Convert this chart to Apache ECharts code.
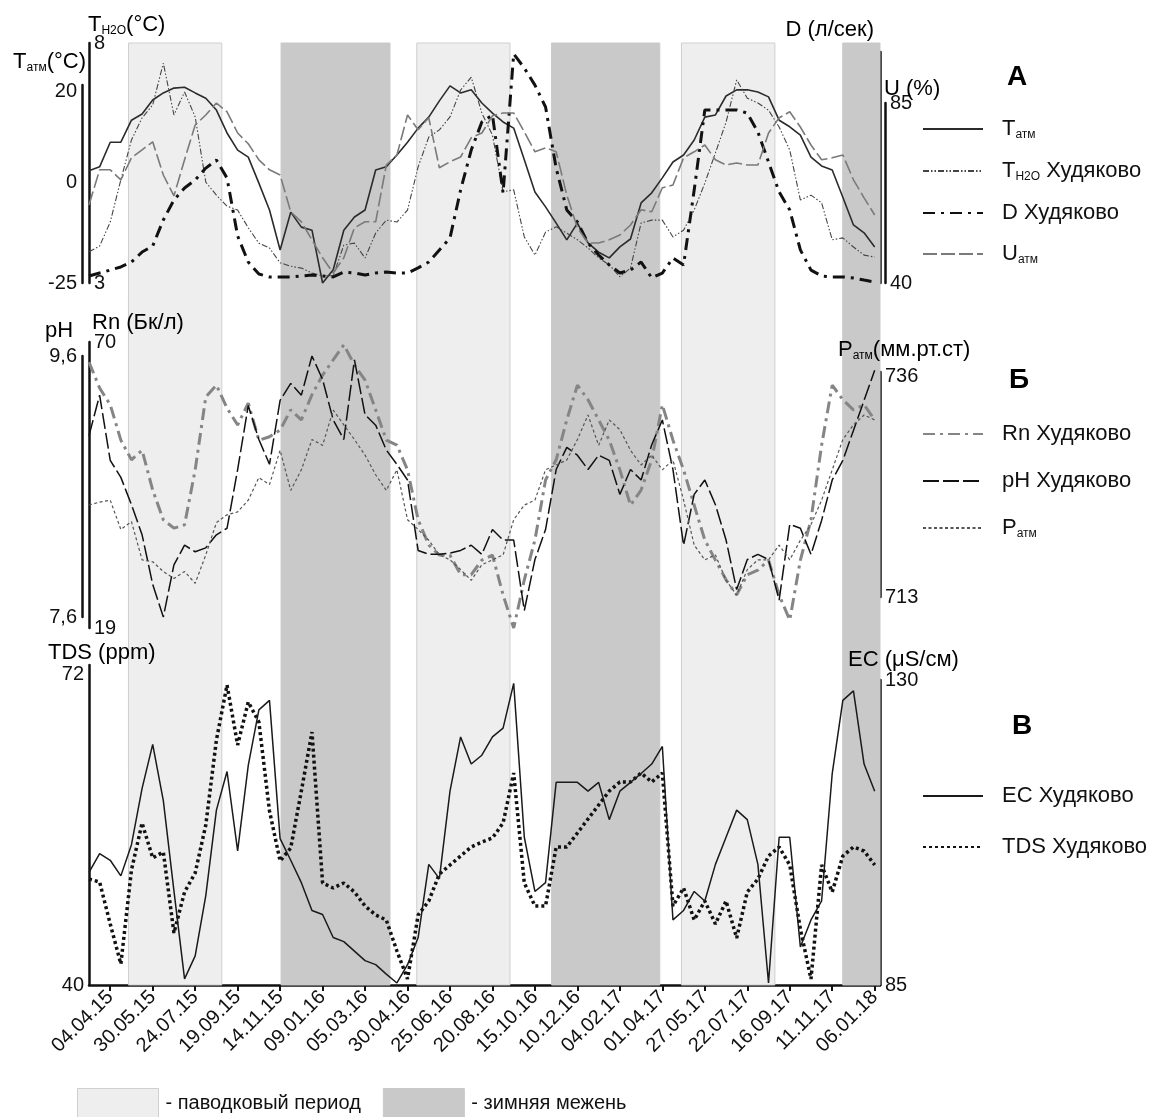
<!DOCTYPE html>
<html>
<head>
<meta charset="utf-8">
<script src="https://cdn.jsdelivr.net/npm/echarts@6/dist/echarts.min.js"></script>
<style>
  html, body { margin: 0; padding: 0; background: #fff; }
  #chart { width: 1172px; height: 1117px; }
</style>
</head>
<body>
<div id="chart"></div>
<script>
// подписи оси X (каждые 56 дней), точки данных — раз в 2 недели, первая за 4 недели до 04.04.15
const dateLabels = ['04.04.15', '30.05.15', '24.07.15', '19.09.15', '14.11.15', '09.01.16', '05.03.16',
  '30.04.16', '25.06.16', '20.08.16', '15.10.16', '10.12.16', '04.02.17', '01.04.17', '27.05.17',
  '22.07.17', '16.09.17', '11.11.17', '06.01.18'];

// периоды, в шагах по 2 недели от 04.04.15
const floodPeriods = [[1.72, 10.51], [28.87, 37.65], [53.8, 62.6]];
const winterPeriods = [[16.09, 26.35], [41.57, 51.76], [68.99, 72.5]];

// А
const tAtm = [0.5, 1.4, 7.0, 7.0, 12.0, 13.4, 16.6, 18.2, 19.3, 19.5, 18.2, 17.0, 14.3, 9.1, 5.2, 3.6, -2.3, -8.4, -17.5, -8.9,
  -12.3, -13.0, -25.0, -22.0, -13.0, -10.0, -8.4, 0.7, 1.4, 4.1, 7.0, 10.2, 12.7, 16.4, 19.8, 18.2, 18.9, 15.9, 13.6, 11.6,
  10.2, 3.0, -4.3, -7.7, -11.4, -15.2, -11.4, -15.9, -18.0, -19.3, -16.8, -15.0, -6.8, -4.5, -1.1, 2.5, 4.1, 7.5, 12.7, 13.2,
  17.5, 18.9, 18.9, 18.4, 17.3, 12.0, 10.5, 8.6, 3.6, 1.6, 0.7, -5.5, -11.8, -13.6, -16.8];
const tH2O = [3.65, 3.77, 4.27, 5.15, 5.98, 6.44, 6.71, 7.58, 6.50, 6.98, 6.46, 5.10, 4.83, 4.60, 4.52, 4.15, 3.83, 3.73, 3.42, 3.35,
  3.31, 3.21, 3.15, 3.15, 3.79, 3.83, 3.52, 4.04, 4.31, 4.27, 4.52, 5.42, 6.04, 6.19, 6.46, 7.02, 7.29, 6.54, 6.08, 4.90,
  4.94, 3.96, 3.58, 4.06, 4.17, 4.04, 3.90, 3.73, 3.52, 3.38, 3.13, 3.31, 4.25, 4.31, 4.31, 3.96, 4.10, 4.52, 5.08, 5.71,
  6.35, 7.23, 6.85, 6.75, 6.60, 6.25, 5.77, 4.73, 4.83, 4.67, 3.90, 3.94, 3.75, 3.58, 3.54];
const dFlow = [25.6, 27.1, 28.6, 30.2, 32.7, 37.8, 40.9, 54.2, 64.4, 70.5, 74.6, 80.7, 84.8, 75.6, 46.0, 32.7, 26.6, 25.1, 25.1, 25.1,
  25.6, 26.1, 25.6, 25.1, 27.6, 27.1, 26.1, 27.1, 27.6, 27.1, 27.1, 29.7, 32.7, 38.9, 45.0, 69.5, 89.9, 104.2, 107.8, 68.0,
  139, 131.8, 123.1, 111.9, 80.7, 59.3, 53.2, 42.4, 36.3, 31.2, 27.1, 28.6, 32.7, 24.6, 27.1, 34.8, 31.2, 69.5, 110.4, 110.4,
  110.4, 110.4, 108.8, 99.1, 83.8, 68.5, 59.3, 38.9, 28.6, 25.6, 25.1, 25.1, 24.6, 23.5, 22.5];
const uAtm = [59.5, 68.3, 68.3, 65.8, 71.3, 73.3, 75.3, 67.0, 61.8, 70.8, 79.5, 82.0, 85.0, 82.8, 77.5, 74.8, 70.8, 68.3, 67.0, 57.8,
  55.3, 50.8, 46.3, 42.5, 46.3, 53.8, 55.3, 55.3, 69.5, 72.0, 82.0, 78.3, 81.3, 68.8, 70.3, 71.5, 76.3, 77.5, 81.8, 82.5,
  82.5, 77.8, 72.8, 73.8, 72.8, 62.0, 53.8, 50.0, 50.0, 50.8, 52.0, 54.5, 58.3, 57.8, 63.8, 64.5, 71.3, 72.8, 74.5, 70.8,
  69.5, 70.0, 69.5, 69.5, 77.5, 81.3, 82.8, 79.0, 74.5, 70.8, 71.3, 72.0, 65.8, 61.3, 57.0];

// Б
const rn = [66.4, 61.8, 58.8, 52.5, 49.0, 50.7, 43.6, 38.3, 36.8, 37.4, 47.2, 60.2, 62.3, 58.2, 55.2, 59.1, 52.5, 53.1, 54.3, 57.9,
  56.1, 60.6, 64.1, 66.8, 69.5, 65.9, 63.2, 57.9, 52.5, 51.6, 47.2, 38.3, 33.8, 32.0, 32.0, 28.5, 28.5, 31.1, 32.0, 24.9,
  19.0, 27.6, 34.7, 45.4, 49.0, 56.1, 62.3, 59.7, 56.1, 52.5, 47.2, 40.9, 43.6, 49.0, 58.8, 52.5, 47.2, 40.9, 34.7, 31.1,
  27.6, 24.9, 28.5, 29.3, 31.1, 24.9, 20.4, 31.1, 38.3, 51.6, 62.3, 59.7, 57.9, 58.8, 56.1];
const ph = [8.99, 9.30, 8.80, 8.67, 8.46, 8.23, 7.85, 7.60, 8.00, 8.15, 8.10, 8.13, 8.23, 8.28, 8.73, 9.22, 8.96, 8.77, 9.26, 9.39,
  9.30, 9.60, 9.42, 9.11, 8.96, 9.57, 9.15, 9.07, 8.88, 8.77, 8.65, 8.11, 8.08, 8.08, 8.09, 8.11, 8.15, 8.08, 8.27, 8.19,
  8.19, 7.65, 8.04, 8.27, 8.73, 8.90, 8.84, 8.73, 8.84, 8.80, 8.54, 8.73, 8.65, 8.92, 9.11, 8.73, 8.15, 8.54, 8.65, 8.46,
  8.19, 7.81, 8.04, 8.08, 8.04, 7.73, 8.31, 8.28, 8.08, 8.34, 8.65, 8.80, 9.03, 9.26, 9.49];
const pAtm = [722.4, 722.7, 722.9, 719.9, 720.7, 716.8, 716.6, 715.6, 714.9, 715.6, 714.4, 717.3, 720.6, 721.4, 721.7, 722.9, 725.2, 724.5, 728.0, 723.9,
  726.0, 729.1, 728.5, 732.1, 730.6, 729.1, 727.5, 725.5, 723.9, 726.0, 720.9, 719.9, 718.8, 717.3, 716.8, 715.8, 714.7, 716.3, 716.8, 717.3,
  720.9, 722.4, 722.9, 726.0, 726.5, 727.0, 729.1, 731.6, 728.5, 731.1, 730.1, 728.0, 726.5, 727.5, 726.0, 727.0, 722.9, 718.3, 716.8, 717.3,
  714.7, 713.2, 715.8, 716.8, 716.8, 718.3, 716.8, 718.8, 720.4, 722.9, 726.0, 729.1, 730.6, 731.6, 731.1];

// В
const ec = [101.6, 104.4, 103.4, 101.1, 105.7, 114.0, 120.5, 112.2, 98.9, 85.9, 89.3, 98.2, 110.8, 116.5, 104.8, 117.4, 125.6, 127.0, 106.6, 103.4,
  100.1, 96.0, 95.4, 92.0, 91.4, 90.0, 88.6, 88.0, 86.6, 85.3, 88.0, 92.0, 102.8, 100.7, 113.6, 121.6, 117.6, 118.9, 121.6, 122.9,
  129.5, 106.8, 98.8, 100.1, 114.9, 114.9, 114.9, 113.6, 114.9, 109.4, 113.6, 114.9, 116.2, 117.6, 120.2, 94.6, 96.0, 98.8, 97.4, 102.8,
  106.8, 110.8, 109.4, 102.8, 85.3, 106.8, 106.8, 90.6, 94.6, 97.4, 116.2, 127.0, 128.4, 117.6, 113.6];
const tds = [50.6, 50.3, 46.1, 42.1, 51.5, 56.2, 52.7, 53.3, 45.2, 49.3, 51.2, 56.0, 64.5, 70.0, 64.0, 68.3, 66.3, 57.4, 52.4, 53.7,
  59.4, 65.3, 50.2, 49.7, 50.2, 49.3, 47.9, 47.0, 46.5, 43.4, 40.6, 47.0, 48.4, 51.1, 52.0, 52.9, 53.8, 54.3, 54.7, 56.2,
  61.2, 50.2, 47.9, 47.9, 53.8, 53.8, 55.2, 56.6, 58.0, 59.4, 60.3, 60.3, 61.2, 60.3, 61.2, 47.9, 49.7, 46.5, 48.4, 46.1,
  48.4, 44.7, 49.3, 50.6, 52.9, 53.8, 52.0, 45.6, 40.6, 52.0, 49.3, 52.9, 53.8, 53.4, 52.0];

const FONT = '"Liberation Sans", Arial, sans-serif';
const INK = '#111';
const X_MIN = -2, X_MAX = 72.5;
const tickSteps = dateLabels.map((d, k) => k * 4);

const rich = {
  n: { fontSize: 22, fontFamily: FONT, color: INK, lineHeight: 24 },
  s: { fontSize: 12, fontFamily: FONT, color: INK, lineHeight: 14, verticalAlign: 'bottom' },
  b: { fontSize: 28, fontFamily: FONT, color: INK, fontWeight: 'bold' }
};

const legendText = {
  'Tатм': '{n|T}{s|атм}',
  'TH2O Худяково': '{n|T}{s|H2O}{n| Худяково}',
  'D Худяково': '{n|D Худяково}',
  'Uатм': '{n|U}{s|атм}',
  'Rn Худяково': '{n|Rn Худяково}',
  'pH Худяково': '{n|pH Худяково}',
  'Pатм': '{n|P}{s|атм}',
  'EC Худяково': '{n|EC Худяково}',
  'TDS Худяково': '{n|TDS Худяково}'
};

// одна сетка на каждую ось Y, чтобы у осей была своя высота
// nudge: на сколько пикселей опустить отдельную подпись шкалы
const layers = [
  { name: 'Tатм', data: tAtm, top: 85, height: 198, min: -25, max: 20, pos: 'left', offset: 7, inside: false, values: [-25, 0, 20],
    nudge: { 20: 6, 0: 9 }, line: { color: '#2b2b2b', width: 1.6, type: 'solid' } },
  { name: 'TH2O Худяково', data: tH2O, top: 43, height: 240, min: 3, max: 8, pos: 'left', offset: 0, inside: true,
    line: { color: '#444', width: 1.1, type: [6, 2, 1.5, 2, 1.5, 2] } },
  { name: 'D Худяково', data: dFlow, top: 52, height: 231, min: 22, max: 140, pos: 'right', offset: 0, inside: true,
    line: { color: '#111', width: 3, type: [12, 6, 3, 6] } },
  { name: 'Uатм', data: uAtm, top: 103, height: 180, min: 40, max: 85, pos: 'right', offset: 5, inside: false,
    line: { color: '#7a7a7a', width: 1.6, type: [14, 4] } },
  { name: 'Rn Худяково', data: rn, top: 342, height: 286, min: 19, max: 70, pos: 'left', offset: 0, inside: true,
    line: { color: '#858585', width: 3, type: [12, 5, 3, 5] } },
  { name: 'pH Худяково', data: ph, top: 356, height: 261, min: 7.6, max: 9.6, pos: 'left', offset: 7, inside: false, comma: true,
    line: { color: '#111', width: 1.5, type: [16, 4] } },
  { name: 'Pатм', data: pAtm, top: 372, height: 225, min: 713, max: 736, pos: 'right', offset: 0, inside: false,
    nudge: { 736: 4 }, line: { color: '#555', width: 1.2, type: [3, 2.5] } },
  { name: 'TDS Худяково', data: tds, top: 665, height: 320, min: 40, max: 72, pos: 'left', offset: 0, inside: false, dates: true,
    nudge: { 72: 9 }, line: { color: '#111', width: 3.5, type: [3, 3] } },
  { name: 'EC Худяково', data: ec, top: 680, height: 305, min: 85, max: 130, pos: 'right', offset: 0, inside: false,
    line: { color: '#1a1a1a', width: 1.5, type: 'solid' } }
];

const grid = [], xAxis = [], yAxis = [], series = [];

layers.forEach((l, i) => {
  grid.push({ left: 89, width: 791, top: l.top, height: l.height });
  xAxis.push(l.dates ? {
    gridIndex: i, type: 'value', min: X_MIN, max: X_MAX,
    splitLine: { show: false },
    axisLine: { show: true, onZero: false, lineStyle: { color: INK, width: 2.5 } },
    axisTick: { show: true, customValues: tickSteps, length: 6, lineStyle: { color: INK, width: 2 } },
    axisLabel: {
      customValues: tickSteps, rotate: 45, margin: 9, fontSize: 20, fontFamily: FONT, color: INK,
      formatter: v => dateLabels[Math.round(v / 4)]
    }
  } : { gridIndex: i, type: 'value', min: X_MIN, max: X_MAX, show: false });
  const nudge = l.nudge || {};
  yAxis.push({
    gridIndex: i, type: 'value', min: l.min, max: l.max, position: l.pos, offset: l.offset,
    splitLine: { show: false },
    axisTick: { show: false },
    axisLine: { show: true, onZero: false, lineStyle: { color: INK, width: 2.5 } },
    axisLabel: {
      inside: l.inside, margin: 5, fontSize: 20, fontFamily: FONT, color: INK,
      customValues: l.values || [l.min, l.max],
      formatter: v => {
        const txt = l.comma ? v.toFixed(1).replace('.', ',') : String(v);
        return nudge[v] ? '{d' + nudge[v] + '|' + txt + '}' : txt;
      },
      rich: Object.fromEntries(Object.values(nudge).map(p => ['d' + p,
        { fontSize: 20, fontFamily: FONT, color: INK, padding: [p * 2, 0, 0, 0] }]))
    }
  });
  series.push({
    name: l.name, type: 'line', xAxisIndex: i, yAxisIndex: i, z: 5,
    symbol: 'none', silent: true,
    color: l.line.color,
    lineStyle: l.line,
    data: l.data.map((v, k) => [k - 2, v])
  });
});

// фон: паводок и межень
const bandIdx = layers.length;
grid.push({ left: 89, width: 791, top: 43, height: 942 });
xAxis.push({ gridIndex: bandIdx, type: 'value', min: X_MIN, max: X_MAX, show: false });
yAxis.push({ gridIndex: bandIdx, type: 'value', min: 0, max: 1, show: false });

const bandSeries = (name, periods, color, border) => ({
  name, type: 'line', xAxisIndex: bandIdx, yAxisIndex: bandIdx, z: 1, data: [],
  color, itemStyle: { color, borderColor: border, borderWidth: 1 },
  markArea: {
    silent: true,
    itemStyle: { color, borderColor: border, borderWidth: 1 },
    data: periods.map(([a, b]) => [{ xAxis: a }, { xAxis: b }])
  }
});
series.push(bandSeries('- паводковый период', floodPeriods, '#eeeeee', '#cfcfcf'));
series.push(bandSeries('- зимняя межень', winterPeriods, '#c9c9c9', '#c9c9c9'));

const seriesLegend = (names, top, gap) => ({
  data: names, left: 922, top, orient: 'vertical', padding: 0,
  itemWidth: 60, itemHeight: 14, itemGap: gap,
  itemStyle: { opacity: 0 },
  formatter: name => legendText[name],
  textStyle: { rich, padding: [0, 0, 0, 14] },
  selectedMode: false
});

const axisTitle = (text, x, y, align) => ({
  type: 'text', x, y, z: 100, silent: true,
  style: { text, rich, align, verticalAlign: 'middle' }
});

const option = {
  animation: false,
  backgroundColor: '#fff',
  textStyle: { fontFamily: FONT },
  grid, xAxis, yAxis, series,
  legend: [
    seriesLegend(['Tатм', 'TH2O Худяково', 'D Худяково', 'Uатм'], 118, 19),
    seriesLegend(['Rn Худяково', 'pH Худяково', 'Pатм'], 423, 25),
    seriesLegend(['EC Худяково', 'TDS Худяково'], 785, 29),
    {
      left: 77, top: 1088, padding: 0, itemWidth: 81, itemHeight: 29, itemGap: 22, icon: 'rect',
      selectedMode: false,
      data: [
        { name: '- паводковый период', itemStyle: { color: '#eeeeee', borderColor: '#cfcfcf', borderWidth: 1 } },
        { name: '- зимняя межень', itemStyle: { color: '#c9c9c9', borderColor: '#c9c9c9', borderWidth: 1 } }
      ],
      textStyle: { fontSize: 20, fontFamily: FONT, color: INK, padding: [0, 0, 0, 2] }
    }
  ],
  graphic: [
    axisTitle('{n|T}{s|H2O}{n|(°C)}', 88, 25, 'left'),
    axisTitle('{n|T}{s|атм}{n|(°C)}', 86, 62, 'right'),
    axisTitle('{n|D (л/сек)}', 874, 30, 'right'),
    axisTitle('{n|U (%)}', 884, 89, 'left'),
    axisTitle('{n|pH}', 45, 331, 'left'),
    axisTitle('{n|Rn (Бк/л)}', 92, 323, 'left'),
    axisTitle('{n|P}{s|атм}{n|(мм.рт.ст)}', 838, 350, 'left'),
    axisTitle('{n|TDS (ppm)}', 48, 653, 'left'),
    axisTitle('{n|EC (μS/см)}', 848, 660, 'left'),
    axisTitle('{b|А}', 1017, 77, 'center'),
    axisTitle('{b|Б}', 1019, 380, 'center'),
    axisTitle('{b|В}', 1022, 726, 'center')
  ]
};

const chart = echarts.init(document.getElementById('chart'), null, { renderer: 'canvas' });
chart.setOption(option);
</script>
</body>
</html>
